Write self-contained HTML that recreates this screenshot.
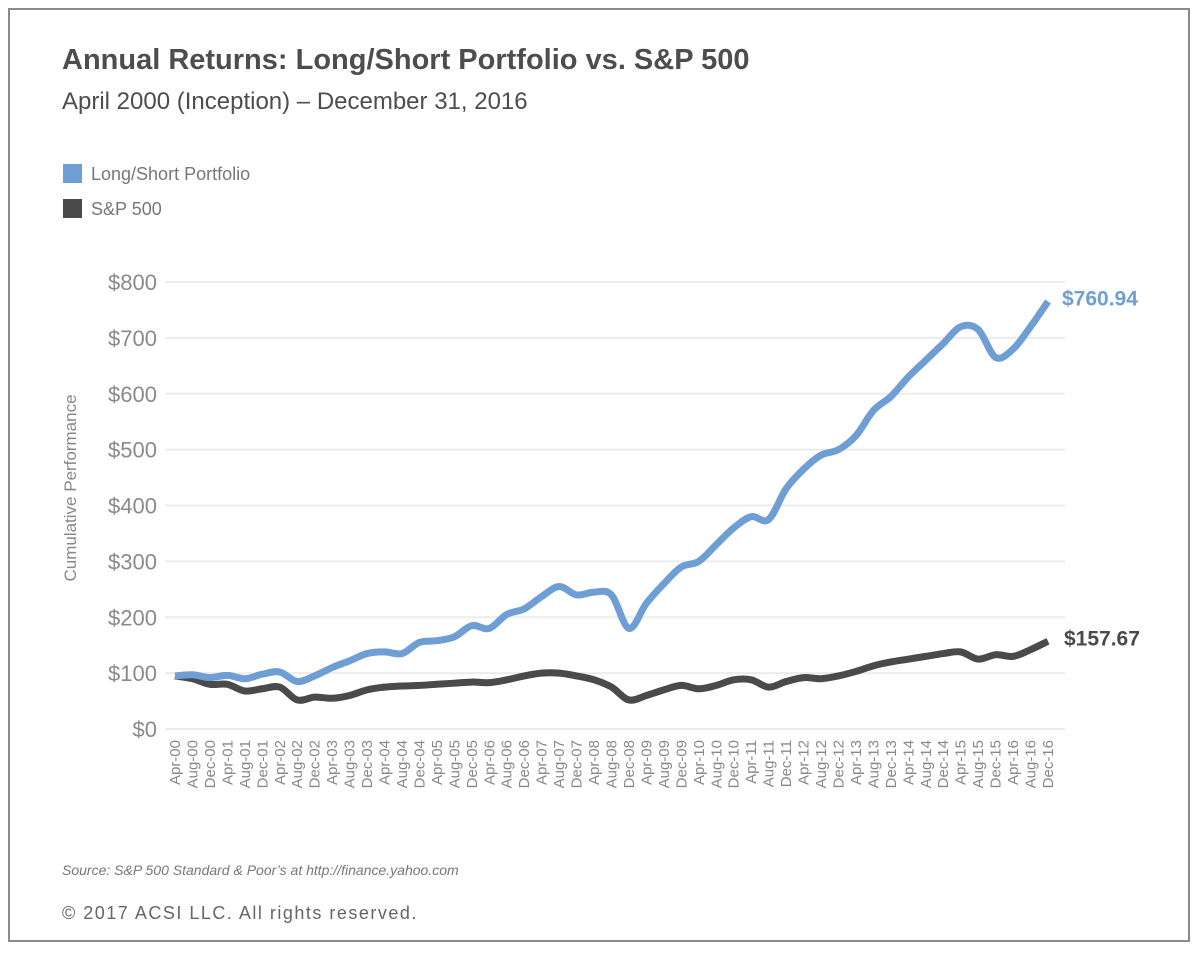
<!DOCTYPE html>
<html><head><meta charset="utf-8"><style>
body{margin:0;background:#fff;font-family:"Liberation Sans",Arial,sans-serif;}
#wrap{position:relative;width:1200px;height:954px;overflow:hidden;}
#frame{position:absolute;left:8px;top:8px;width:1182px;height:934px;border:2px solid #8a8a8a;box-sizing:border-box;}
.t{position:absolute;white-space:nowrap;}
</style></head><body><div id="wrap">
<div id="frame"></div>
<div class="t" style="left:62px;top:44px;font-size:29px;font-weight:bold;color:#4d4d4d;">Annual Returns: Long/Short Portfolio vs. S&amp;P 500</div>
<div class="t" style="left:62px;top:88px;font-size:24px;color:#4d4d4d;">April 2000 (Inception) – December 31, 2016</div>
<div class="t" style="left:63px;top:164px;font-size:18px;color:#777;"><span style="display:inline-block;width:19px;height:19px;background:#6f9ed5;vertical-align:-3px;margin-right:9px;"></span>Long/Short Portfolio</div>
<div class="t" style="left:63px;top:199px;font-size:18px;color:#777;"><span style="display:inline-block;width:19px;height:19px;background:#4a4a4a;vertical-align:-3px;margin-right:9px;"></span>S&amp;P 500</div>
<div class="t" style="left:62px;top:862px;font-size:14px;font-style:italic;color:#777;">Source: S&amp;P 500 Standard &amp; Poor’s at http://finance.yahoo.com</div>
<div class="t" style="left:62px;top:903px;font-size:18px;letter-spacing:1.5px;color:#666;">© 2017 ACSI LLC. All rights reserved.</div>
<svg id="chart" width="1200" height="954" style="position:absolute;left:0;top:0"></svg>
</div>
<script>
const categories=["Apr-00","Aug-00","Dec-00","Apr-01","Aug-01","Dec-01","Apr-02","Aug-02","Dec-02","Apr-03","Aug-03","Dec-03","Apr-04","Aug-04","Dec-04","Apr-05","Aug-05","Dec-05","Apr-06","Aug-06","Dec-06","Apr-07","Aug-07","Dec-07","Apr-08","Aug-08","Dec-08","Apr-09","Aug-09","Dec-09","Apr-10","Aug-10","Dec-10","Apr-11","Aug-11","Dec-11","Apr-12","Aug-12","Dec-12","Apr-13","Aug-13","Dec-13","Apr-14","Aug-14","Dec-14","Apr-15","Aug-15","Dec-15","Apr-16","Aug-16","Dec-16"];
const portfolio=[95,97,92,96,90,98,102,85,95,110,122,135,138,135,155,158,165,185,180,205,215,237,255,240,245,240,180,225,260,290,300,330,360,380,375,430,465,490,500,525,570,595,630,660,690,720,715,665,680,720,765];
const sp500=[95,90,80,80,68,72,75,52,57,55,60,70,75,77,78,80,82,84,83,88,95,100,100,95,88,75,52,60,70,78,72,78,88,88,75,85,92,90,95,103,113,120,125,130,135,138,125,133,130,142,157];
const yTicks=[0,100,200,300,400,500,600,700,800];
const endLabels=["$760.94","$157.67"];
const NS="http://www.w3.org/2000/svg";
const svg=document.getElementById('chart');
const x0=175,x1=1048,yBase=729,yTop=282;
function xs(i){return x0+(x1-x0)*i/(categories.length-1);}
function ys(v){return yBase-(yBase-yTop)*v/800;}
function mk(tag,attrs){const e=document.createElementNS(NS,tag);for(const k in attrs)e.setAttribute(k,attrs[k]);svg.appendChild(e);return e;}
yTicks.forEach(v=>{
  const g=mk('line',{x1:165,x2:1065,y1:ys(v),y2:ys(v),stroke:'#ececec','stroke-width':2});
  
  
  const t=mk('text',{x:157,y:ys(v)+8,'text-anchor':'end','font-size':22,fill:'#8a8a8a','font-family':'Liberation Sans, sans-serif'});
  t.textContent='$'+v;
  
  
});
const yt=mk('text',{x:0,y:0,'text-anchor':'middle','font-size':17,fill:'#888','font-family':'Liberation Sans, sans-serif',transform:'translate(76,488) rotate(-90)'});
yt.textContent='Cumulative Performance';


categories.forEach((c,i)=>{
  const t=mk('text',{x:0,y:0,'text-anchor':'end','font-size':15,fill:'#888','font-family':'Liberation Sans, sans-serif',transform:`translate(${xs(i)+5},740) rotate(-90)`});
  t.textContent=c;
  
  
});
function path(vals){
  const p=vals.map((v,i)=>[xs(i),ys(v)]);
  let d='M'+p[0][0]+','+p[0][1];
  for(let i=0;i<p.length-1;i++){
    const a=p[Math.max(0,i-1)],b=p[i],c=p[i+1],e=p[Math.min(p.length-1,i+2)];
    d+=` C${b[0]+(c[0]-a[0])/6},${b[1]+(c[1]-a[1])/6} ${c[0]-(e[0]-b[0])/6},${c[1]-(e[1]-b[1])/6} ${c[0]},${c[1]}`;
  }
  return d;
}
const l1=mk('path',{d:path(sp500),fill:'none',stroke:'#4a4a4a','stroke-width':7,'stroke-linejoin':'round'});


const l2=mk('path',{d:path(portfolio),fill:'none',stroke:'#6f9ed5','stroke-width':7,'stroke-linejoin':'round'});


const e1=mk('text',{x:1062,y:ys(portfolio[portfolio.length-1])+4,'font-size':21,'font-weight':'bold',fill:'#6f9ed5','font-family':'Liberation Sans, sans-serif'});
e1.textContent=endLabels[0];


const e2=mk('text',{x:1064,y:ys(sp500[sp500.length-1])+4,'font-size':21,'font-weight':'bold',fill:'#4a4a4a','font-family':'Liberation Sans, sans-serif'});
e2.textContent=endLabels[1];


</script>
</body></html>
